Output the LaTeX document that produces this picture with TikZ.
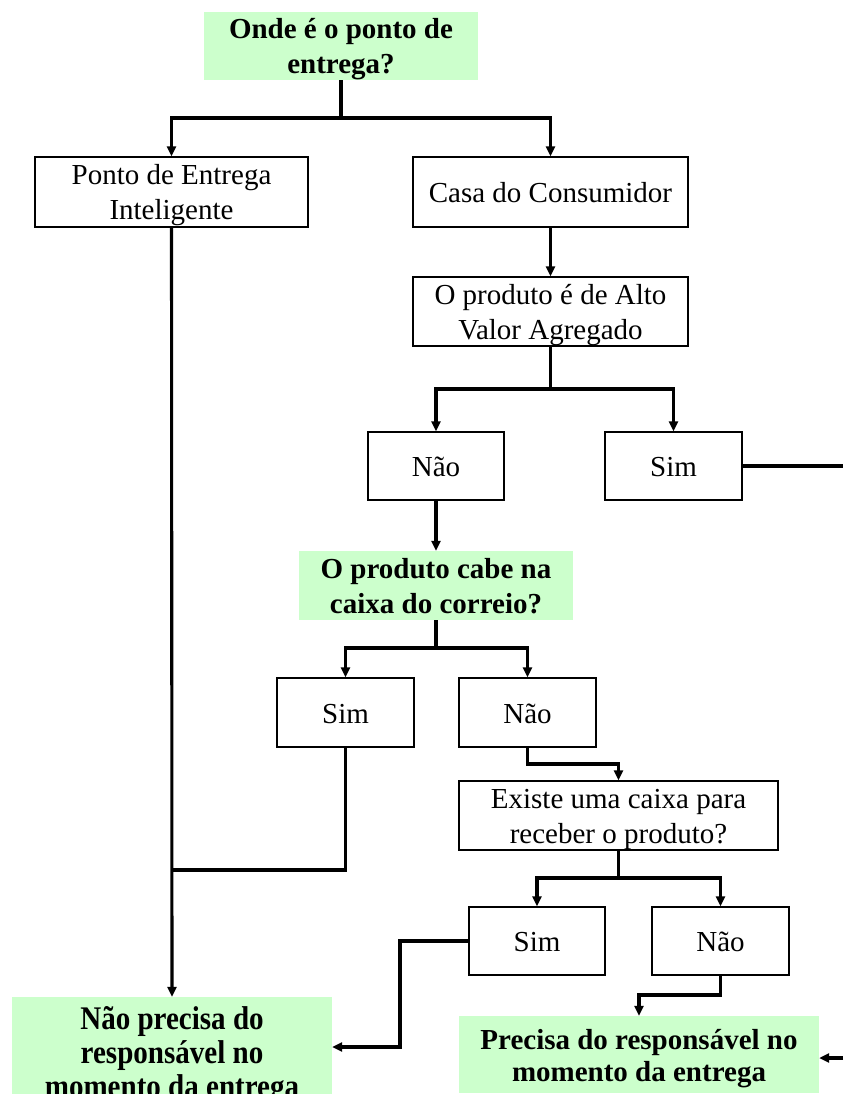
\documentclass[tikz,border=0pt]{standalone}
\usepackage{fontspec}
\setmainfont{Liberation Serif}
\newfontfamily\tallfont[FakeStretch=0.88]{Liberation Serif}
\usetikzlibrary{arrows.meta}
\definecolor{qgreen}{HTML}{CCFFCC}
\newcommand{\mytop}{\rule{0pt}{27pt}}
\newcommand{\mybot}{\rule[-6pt]{0pt}{0pt}}
\lineskiplimit=-50pt
\begin{document}
\begin{tikzpicture}[x=1pt,y=-1pt,
  txt/.style={align=center,inner sep=0pt},
  box/.style={txt,draw=black,line width=1.3pt,fill=white,
    font=\fontsize{29}{35}\selectfont},
  qbox/.style={txt,fill=qgreen,draw=none,
    font=\fontsize{29}{35}\selectfont\bfseries},
  conn/.style={line width=3.1pt},
  arr/.style={line width=3.1pt,-{Triangle[length=10pt,width=9pt]}}]
\useasboundingbox (0,0) rectangle (843,1094);
% nodes
\node[qbox,minimum width=274pt,minimum height=68pt] (q1) at (341,46) {\mytop Onde é o ponto de\\entrega?\mybot};
\node[box,minimum width=273pt,minimum height=70pt] (pei) at (171.5,192) {\mytop Ponto de Entrega\\Inteligente\mybot};
\node[box,minimum width=275pt,minimum height=70pt] (casa) at (550.5,192) {\mytop Casa do Consumidor\mybot};
\node[box,minimum width=275pt,minimum height=69pt] (alto) at (550.5,311.5) {\mytop O produto é de Alto\\Valor Agregado\mybot};
\node[box,minimum width=136pt,minimum height=68pt] (nao1) at (436,466) {\mytop Não\mybot};
\node[box,minimum width=137pt,minimum height=68pt] (sim1) at (673.5,466) {\mytop Sim\mybot};
\node[qbox,minimum width=274pt,minimum height=69pt] (q2) at (436,585.5) {\mytop O produto cabe na\\caixa do correio?\mybot};
\node[box,minimum width=137pt,minimum height=69pt] (sim2) at (345.5,712.5) {\mytop Sim\mybot};
\node[box,minimum width=137pt,minimum height=69pt] (nao2) at (527.5,712.5) {\mytop Não\mybot};
\node[box,minimum width=319pt,minimum height=69pt] (existe) at (618.5,815.5) {\mytop Existe uma caixa para\\receber o produto?\mybot};
\node[box,minimum width=136pt,minimum height=68pt] (sim3) at (537,941) {\mytop Sim\mybot};
\node[box,minimum width=137pt,minimum height=68pt] (nao3) at (720.5,941) {\mytop Não\mybot};
\node[qbox,minimum width=320pt,minimum height=108pt,
  font=\tallfont\fontsize{33}{34}\selectfont\bfseries] (res1) at (172,1051)
  {\rule{0pt}{32pt}Não precisa do\\responsável no\\momento da entrega\rule[-8pt]{0pt}{0pt}};
\node[qbox,minimum width=360pt,minimum height=77pt,
  font=\fontsize{29}{32}\selectfont\bfseries] (res2) at (639,1054.5)
  {\rule{0pt}{28pt}Precisa do responsável no\\momento da entrega\mybot};
% junction coordinates
\coordinate (j1) at (341,118);
\coordinate (j2) at (550.5,389);
\coordinate (j3) at (436,648);
\coordinate (j4) at (527.5,764);
\coordinate (j5) at (618.5,878);
\coordinate (j6) at (345.5,870);
\coordinate (j7) at (172,870);
\coordinate (j8) at (400,1047);
\coordinate (j9) at (720.5,995);
\coordinate (e1) at (843,466);
\coordinate (e2) at (843,1058);
% connectors
\draw[conn] (q1.south) -- (j1);
\draw[arr] (j1) -| (pei.north);
\draw[arr] (j1) -| (casa.north);
\draw[arr] (casa.south) -- (alto.north);
\draw[conn] (alto.south) -- (j2);
\draw[arr] (j2) -| (nao1.north);
\draw[arr] (j2) -| (sim1.north);
\draw[conn] (sim1.east) -- (e1);
\draw[arr] (nao1.south) -- (q2.north);
\draw[conn] (q2.south) -- (j3);
\draw[arr] (j3) -| (sim2.north);
\draw[arr] (j3) -| (nao2.north);
\draw[arr] (nao2.south) -- (j4) -| (existe.north);
\draw[conn] (existe.south) -- (j5);
\draw[arr] (j5) -| (sim3.north);
\draw[arr] (j5) -| (nao3.north);
\draw[arr] (pei.south) -- (res1.north);
\draw[conn] (sim2.south) -- (j6) -- (j7);
\draw[arr] (sim3.west) -| (j8) -- (res1.east |- j8);
\draw[arr] (nao3.south) -- (j9) -| (res2.north);
\draw[arr] (e2) -- (res2.east |- e2);
\end{tikzpicture}
\end{document}
